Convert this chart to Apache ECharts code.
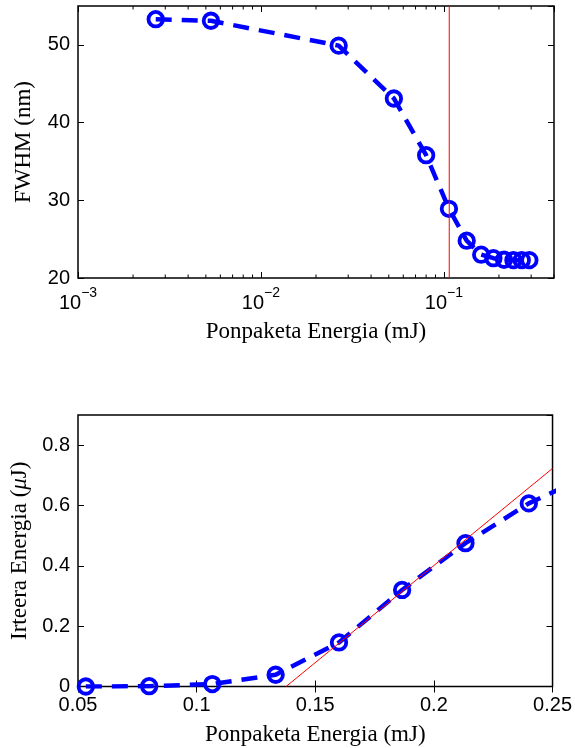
<!DOCTYPE html>
<html>
<head>
<meta charset="utf-8">
<script src="https://cdn.jsdelivr.net/npm/echarts@6/dist/echarts.min.js"></script>
<style>
html,body{margin:0;padding:0;background:#fff;}
#c{width:575px;height:748px;}
</style>
</head>
<body>
<div id="c"></div>
<script>
// ---- Top plot data (FWHM vs pump energy, log x) ----
const topEnergy = [0.00266, 0.00533, 0.0266, 0.0533, 0.08, 0.1066, 0.1333, 0.16, 0.1866, 0.2133, 0.24, 0.2666, 0.2933];
const topFWHM   = [53.3, 53.1, 49.9, 43.1, 35.8, 28.9, 24.8, 23.0, 22.55, 22.35, 22.3, 22.3, 22.3];
const thresholdEnergy = 0.107;
const topXRange = [0.001, 0.4];
const topYRange = [20, 55];
const topYInterval = 10;
const logMinorTicks = [0.002,0.003,0.004,0.005,0.006,0.007,0.008,0.009,
                       0.02,0.03,0.04,0.05,0.06,0.07,0.08,0.09,
                       0.2,0.3,0.4];

// ---- Bottom plot data (output energy vs pump energy) ----
const botEnergy = [0.0533, 0.08, 0.1066, 0.1333, 0.16, 0.1866, 0.2133, 0.24, 0.2666];
const botOutput = [0.0, 0.001, 0.008, 0.039, 0.146, 0.32, 0.475, 0.607, 0.705];
const fitEnergy = [0.1377, 0.25];
const fitOutput = [0, 0.723];
const botXRange = [0.05, 0.25];
const botXInterval = 0.05;
const botYRange = [0, 0.9];
const botYInterval = 0.2;

const xTitle = 'Ponpaketa Energia (mJ)';

const tickFont = 'Liberation Sans';
const titleFont = 'Liberation Serif';
const tickSize = 20;
const titleSize = 23;

const zip = (a, b) => a.map((v, i) => [v, b[i]]);

const GL = 78, GW = 476;
const grid1 = {left: GL, top: 6, width: GW, height: 272};
const grid2 = {left: GL, top: 415, width: GW, height: 271.5};

const tickStyle = {show: true, inside: true, length: 6, lineStyle: {color: '#000', width: 1}};
const labelBase = {color: '#000', fontFamily: tickFont, fontSize: tickSize};

function boxGrid(g) {
  return Object.assign({show: true, borderColor: '#000', borderWidth: 1.5, backgroundColor: 'rgba(0,0,0,0)', containLabel: false}, g);
}

const chart = echarts.init(document.getElementById('c'), null, {renderer: 'canvas'});

const option = {
  animation: false,
  backgroundColor: '#fff',
  grid: [boxGrid(grid1), boxGrid(grid2)],
  xAxis: [
    { // 0: top plot bottom log axis
      gridIndex: 0, type: 'log', logBase: 10, min: topXRange[0], max: topXRange[1],
      position: 'bottom',
      axisLine: {show: false}, splitLine: {show: false},
      axisTick: tickStyle,
      axisLabel: Object.assign({}, labelBase, {
        margin: 8, showMaxLabel: false,
        formatter: function (v) {
          const e = Math.round(Math.log10(v));
          return '{b|10}{s|' + (e < 0 ? '\u2212' + (-e) : e) + '}';
        },
        rich: {
          b: {fontFamily: tickFont, fontSize: tickSize, color: '#000', verticalAlign: 'bottom', lineHeight: 27},
          s: {fontFamily: tickFont, fontSize: 14, color: '#000', verticalAlign: 'top', lineHeight: 27}
        }
      }),
      name: xTitle, nameLocation: 'middle', nameGap: 42,
      nameTextStyle: {fontFamily: titleFont, fontSize: titleSize, color: '#000'}
    },
    { // 1: top plot mirror at top
      gridIndex: 0, type: 'log', logBase: 10, min: topXRange[0], max: topXRange[1],
      position: 'top',
      axisLine: {show: false}, splitLine: {show: false},
      axisTick: tickStyle, axisLabel: {show: false}
    },
    { // 2: bottom plot
      gridIndex: 1, type: 'value', min: botXRange[0], max: botXRange[1], interval: botXInterval,
      position: 'bottom',
      axisLine: {show: false}, splitLine: {show: false},
      axisTick: tickStyle,
      axisLabel: Object.assign({}, labelBase, {margin: 9, formatter: v => String(+v.toFixed(3))}),
      name: xTitle, nameLocation: 'middle', nameGap: 37,
      nameTextStyle: {fontFamily: titleFont, fontSize: titleSize, color: '#000'}
    },
    { // 3: bottom plot mirror at top
      gridIndex: 1, type: 'value', min: botXRange[0], max: botXRange[1], interval: botXInterval,
      position: 'top',
      axisLine: {show: false}, splitLine: {show: false},
      axisTick: tickStyle, axisLabel: {show: false}
    }
  ],
  yAxis: [
    { // 0
      gridIndex: 0, type: 'value', min: topYRange[0], max: topYRange[1], interval: topYInterval,
      position: 'left',
      axisLine: {show: false}, splitLine: {show: false},
      axisTick: tickStyle,
      axisLabel: Object.assign({}, labelBase, {margin: 8, showMaxLabel: false}),
      name: 'FWHM (nm)', nameLocation: 'middle', nameGap: 43,
      nameTextStyle: {fontFamily: titleFont, fontSize: titleSize, color: '#000'}
    },
    { // 1
      gridIndex: 0, type: 'value', min: topYRange[0], max: topYRange[1], interval: topYInterval,
      position: 'right',
      axisLine: {show: false}, splitLine: {show: false},
      axisTick: tickStyle, axisLabel: {show: false}
    },
    { // 2
      gridIndex: 1, type: 'value', min: botYRange[0], max: botYRange[1], interval: botYInterval,
      position: 'left',
      axisLine: {show: false}, splitLine: {show: false},
      axisTick: tickStyle,
      axisLabel: Object.assign({}, labelBase, {margin: 8, showMaxLabel: false, formatter: v => String(+v.toFixed(2))}),
      name: '{n|Irteera Energia (}{m|\u03BC}{n|J)}', nameLocation: 'middle', nameGap: 46,
      nameTextStyle: {
        fontFamily: titleFont, fontSize: titleSize, color: '#000',
        rich: {
          n: {fontFamily: titleFont, fontSize: titleSize, color: '#000'},
          m: {fontFamily: titleFont, fontSize: titleSize, color: '#000', fontStyle: 'italic'}
        }
      }
    },
    { // 3
      gridIndex: 1, type: 'value', min: botYRange[0], max: botYRange[1], interval: botYInterval,
      position: 'right',
      axisLine: {show: false}, splitLine: {show: false},
      axisTick: tickStyle, axisLabel: {show: false}
    }
  ],
  series: [
    { // minor log ticks on the top plot
      type: 'custom', xAxisIndex: 0, yAxisIndex: 0, silent: true, clip: false, z: 5,
      data: logMinorTicks.map(v => [v, topYRange[0]]),
      encode: {x: 0, y: 1},
      renderItem: function (params, api) {
        const pb = api.coord([api.value(0), topYRange[0]]);
        const pt = api.coord([api.value(0), topYRange[1]]);
        const st = {stroke: '#000', lineWidth: 1};
        return {type: 'group', children: [
          {type: 'line', shape: {x1: pb[0], y1: pb[1], x2: pb[0], y2: pb[1] - 3.5}, style: st},
          {type: 'line', shape: {x1: pt[0], y1: pt[1], x2: pt[0], y2: pt[1] + 3.5}, style: st}
        ]};
      }
    },
    {
      type: 'line', xAxisIndex: 0, yAxisIndex: 0,
      data: zip(topEnergy, topFWHM),
      lineStyle: {color: '#0000ff', width: 4.5, type: [16, 10], cap: 'butt'},
      symbol: 'circle', symbolSize: 14.5,
      itemStyle: {color: 'rgba(0,0,0,0)', borderColor: '#0000ff', borderWidth: 3.8},
      z: 3
    },
    {
      type: 'line', xAxisIndex: 0, yAxisIndex: 0,
      data: [[thresholdEnergy, topYRange[0]], [thresholdEnergy, topYRange[1]]],
      lineStyle: {color: '#ff0000', width: 1}, symbol: 'none', z: 4
    },
    {
      type: 'line', xAxisIndex: 2, yAxisIndex: 2,
      data: zip(botEnergy, botOutput),
      lineStyle: {color: '#0000ff', width: 4.5, type: [16, 10], cap: 'butt'},
      symbol: 'circle', symbolSize: 14.5,
      itemStyle: {color: 'rgba(0,0,0,0)', borderColor: '#0000ff', borderWidth: 3.8},
      clip: true, z: 3
    },
    {
      type: 'line', xAxisIndex: 2, yAxisIndex: 2,
      data: zip(fitEnergy, fitOutput),
      lineStyle: {color: '#ff0000', width: 1}, symbol: 'none', z: 4
    }
  ]
};
chart.setOption(option);
</script>
</body>
</html>
